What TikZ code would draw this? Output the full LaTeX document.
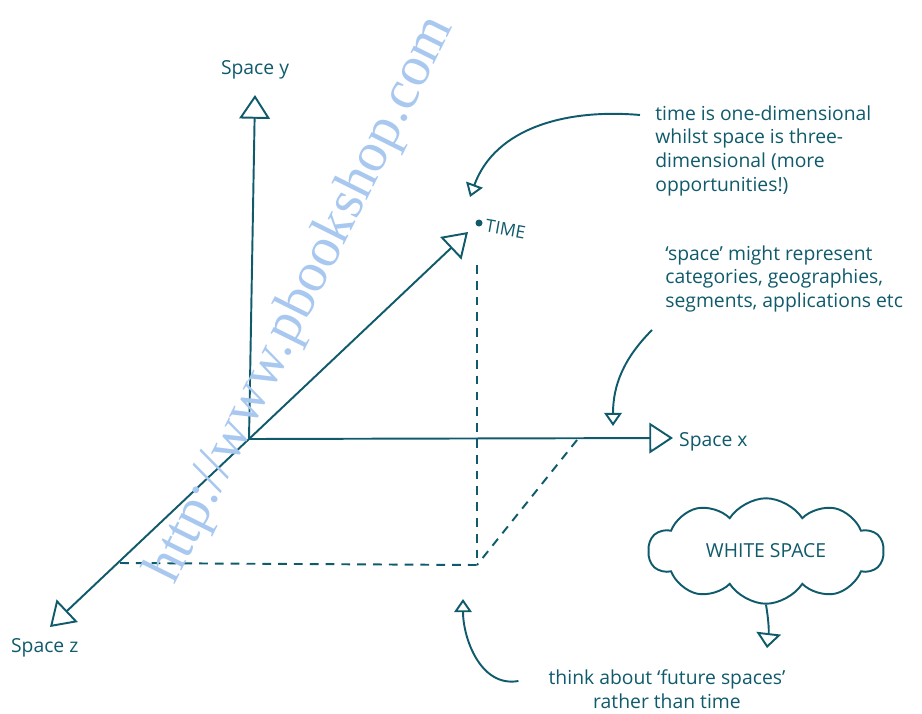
\documentclass[tikz,border=0pt]{standalone}
\usepackage{fontspec}
\setmainfont{Open Sans}
\newfontfamily\wmfont{Liberation Serif}
\usetikzlibrary{arrows.meta, shapes.symbols, positioning}
\definecolor{ink}{HTML}{0F5A6B}
\definecolor{wmark}{HTML}{A8C8F0}

\begin{document}
\begin{tikzpicture}[
	x=0.02cm, y=-0.02cm,
	every node/.style={font=\fontsize{11}{13.6}\selectfont, text=ink},
	axis/.style={draw=ink, line width=1.1pt, -{Triangle[open, length=13.5pt, width=17.5pt]}},
	pointer/.style={draw=ink, line width=1.1pt, -{Triangle[open, length=7.5pt, width=10pt]}},
	guide/.style={draw=ink, line width=1.1pt, dash pattern=on 5pt off 4pt},
	note/.style={align=left, anchor=north west, inner sep=0pt},
	bubble/.style={cloud, cloud puffs=10, cloud puff arc=115, aspect=2.4, draw=ink, line width=1.1pt, minimum width=4.7cm, minimum height=1.95cm}
	]
	\useasboundingbox (0,0) rectangle (922,713);

	% Axes
	\coordinate (o) at (249,439);
	\coordinate (ytip) at (255,95);
	\coordinate (xtip) at (673,438);
	\coordinate (ztip) at (50,627);
	\coordinate (ttip) at (468,232);
	\draw [axis] (o) -- (ytip);
	\draw [axis] (o) -- (xtip);
	\draw [axis] (o) -- (ztip);
	\draw [axis] (o) -- (ttip);
	\node (spacey) [above=0.2cm of ytip] {Space y};
	\node (spacex) [right=0cm of xtip, yshift=-2pt] {Space x};
	\node (spacez) [below=0.1cm of ztip, xshift=-3pt] {Space z};

	% Time point and projections
	\coordinate (timept) at (479,223);
	\fill [ink] (timept) circle (3.5);
	\node (time) [right=0.02cm of timept, rotate=-10, font=\fontsize{10}{10}\selectfont, yshift=-1pt] {TIME};
	\coordinate (drop) at (477,265);
	\coordinate (floor) at (477,565);
	\coordinate (zfoot) at (120,563);
	\coordinate (xfoot) at (577,440);
	\draw [guide] (drop) -- (floor);
	\draw [guide] (zfoot) -- (floor);
	\draw [guide] (xfoot) -- (floor);

	% Notes
	\node (note1) [note] at (655,105) {time is one-dimensional\\whilst space is three-\\dimensional (more\\opportunities!)};
	\node (note2) [note] at (665,245) {`space' might represent\\categories, geographies,\\segments, applications etc};
	\node (note3) [align=center] at (667,689) {think about `future spaces'\\rather than time};
	\node (white) [bubble] at (766,551) {WHITE SPACE};

	\coordinate (timearr) at (470,197);
	\coordinate (xarr) at (613,426);
	\coordinate (floorarr) at (463,599);
	\coordinate (cloudarr) at (767,648);
	\draw [pointer] ([shift={(-15,10)}]note1.north west) to[out=175, in=70] (timearr);
	\draw [pointer] ([shift={(-13,85)}]note2.north west) to[out=225, in=90] (xarr);
	\draw [pointer] ([shift={(-24,-8)}]note3.west) to[out=190, in=-90] (floorarr);
	\draw [draw=ink, line width=1.1pt, -{Triangle[open, length=8.5pt, width=14pt]}] (white.south) to[bend left=8] (cloudarr);

	% Watermark
	\node (wm) [rotate=63.5, text=wmark, font=\wmfont\fontsize{32}{32}\selectfont] at (302,300) {http://www.pbookshop.com};
\end{tikzpicture}
\end{document}
